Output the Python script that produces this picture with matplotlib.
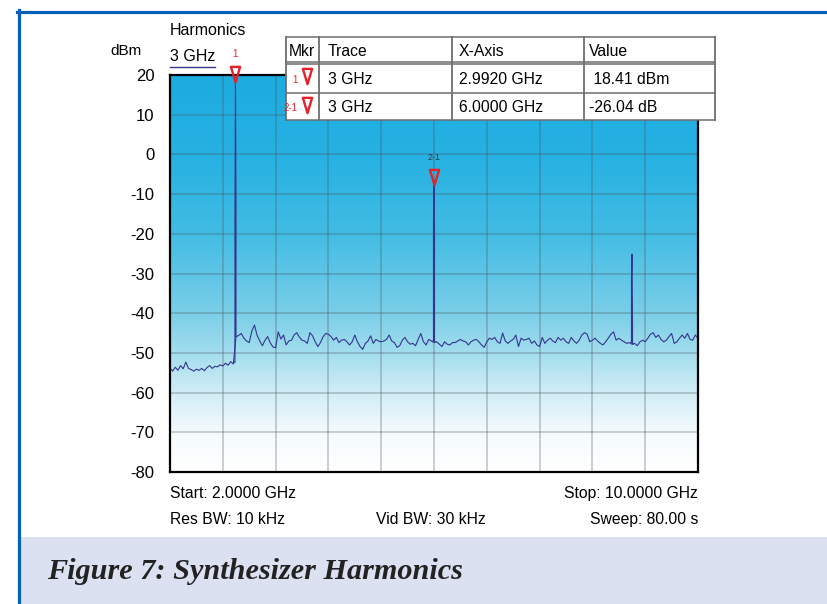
import numpy as np
import matplotlib
matplotlib.use("Agg")
import matplotlib.pyplot as plt
from matplotlib.colors import LinearSegmentedColormap
from matplotlib.patches import Rectangle
from matplotlib.lines import Line2D
from matplotlib.path import Path
from matplotlib import transforms

plt.rcParams['font.family'] = ['Liberation Sans', 'DejaVu Sans']

# ---------------------------------------------------------------- data
start_ghz, stop_ghz = 2.0, 10.0
y_ticks = [20, 10, 0, -10, -20, -30, -40, -50, -60, -70, -80]
x_divisions = 10

# swept trace level (dBm), one reading per 40 MHz from 2 to 10 GHz
level_dbm = [
    -53.8, -54.6, -53.6, -54.4, -53.2, -54.0, -52.3, -53.9, -54.2, -54.6,
    -54.1, -54.4, -53.9, -54.5, -53.7, -53.2, -53.9, -53.4, -53.5, -53.0,
    -53.3, -52.6, -53.1, -52.2, -52.8,
    -45.9, -45.6, -45.1, -46.3, -47.0, -47.4, -44.5, -43.0, -45.6, -47.0,
    -48.2, -46.8, -45.9, -47.5, -48.5, -48.7, -44.7, -46.5, -45.5, -48.0,
    -47.0, -46.8, -45.5, -44.9, -46.0, -46.8, -47.0,
    -47.6, -44.9, -45.7, -47.2, -48.4, -47.4, -45.9, -45.1, -45.3, -45.9,
    -46.8, -46.1, -47.4, -46.8, -46.6, -47.2, -48.0, -47.2, -45.5, -47.2,
    -48.4, -49.1, -47.6, -47.0, -45.7, -47.6, -46.6, -47.0, -47.2, -47.0,
    -46.6, -45.5, -47.0, -47.4, -48.6, -48.2, -46.8, -46.1, -47.2, -47.8,
    -47.6, -48.2, -46.6, -45.1, -47.2, -48.0, -46.6, -47.0,
    -47.4,
    -47.2, -47.8, -48.4, -47.2, -47.8, -48.0, -47.4, -47.4, -47.0, -46.6,
    -47.0, -47.2, -48.0, -47.2, -46.8, -46.6, -47.2, -48.0, -48.6, -47.2,
    -46.3, -46.6, -46.1, -47.2, -47.6, -45.0, -47.0, -47.6, -47.0, -46.6,
    -45.5, -48.4, -46.3, -46.8, -46.6, -46.3, -47.6, -47.0, -48.0, -48.4,
    -46.1, -47.6, -46.8, -46.3, -47.0, -47.4, -46.1, -46.8, -46.3, -47.2,
    -47.6, -46.1, -47.0,
    -47.6, -46.8, -45.5, -44.9, -45.3, -47.2, -46.8, -46.3, -47.0, -47.6,
    -48.0, -47.2, -46.3, -45.3, -44.7, -46.8, -46.3, -46.8, -47.2, -47.6,
    -47.4, -47.8, -47.6, -48.2, -47.2, -46.8, -47.2, -46.3, -45.3, -44.9,
    -46.1, -45.5, -46.6, -47.2, -46.8, -45.9, -45.1, -47.6, -47.2, -46.3,
    -45.5, -46.3, -45.1, -46.6, -46.8, -45.5, -46.3,
]

# marker readout
marker1_ghz = 2.9920
marker1_dbm = 18.41
marker2_ghz = 6.0000
marker2_delta_db = -26.04

# harmonic spikes: fundamental, 2nd, 3rd
spike_ghz = [marker1_ghz, marker2_ghz, 9.000]
spike_top_dbm = [marker1_dbm, marker1_dbm + marker2_delta_db, -25.1]
spike_rise_dbm = [-16.9, -17.5, -31.0]
spike_fall_dbm = [-14.0, -19.0, -43.0]
spike_base_lo = [-52.4, -47.0, -47.4]
spike_base_hi = [-45.9, -47.2, -47.8]

# background shading stops (dBm, rgb)
shade_stops = [
    (20, (29, 172, 224)), (0, (38, 177, 226)), (-20, (66, 188, 228)),
    (-40, (122, 206, 232)), (-50, (162, 221, 238)), (-60, (208, 237, 246)),
    (-70, (244, 250, 252)), (-80, (255, 255, 255)),
]

# ---------------------------------------------------------------- layout
W, H = 828, 604
fig = plt.figure(figsize=(W / 100, H / 100), dpi=100)
fig.patch.set_facecolor('white')


def fx(x):
    return x / W


def fy(y):
    return 1 - y / H


ax_l, ax_t, ax_r, ax_b = 170, 75, 698, 472
ax = fig.add_axes([fx(ax_l), fy(ax_b), fx(ax_r - ax_l), (ax_b - ax_t) / H])
ax.set_xlim(start_ghz, stop_ghz)
ax.set_ylim(y_ticks[-1], y_ticks[0])

# shaded background
lo, hi = y_ticks[-1], y_ticks[0]
pos = [(hi - v) / (hi - lo) for v, _ in shade_stops]
cols = [tuple(c / 255 for c in rgb) for _, rgb in shade_stops]
cmap = LinearSegmentedColormap.from_list('shade', list(zip(pos, cols)))
grad = np.linspace(0, 1, 400).reshape(-1, 1)
ax.imshow(grad, cmap=cmap, extent=[start_ghz, stop_ghz, lo, hi],
          aspect='auto', interpolation='bilinear', zorder=0, origin='upper')

ax.set_xticks(np.linspace(start_ghz, stop_ghz, x_divisions + 1))
ax.set_yticks(y_ticks)
ax.set_xticklabels([])
ax.set_yticklabels([str(v) for v in y_ticks], fontsize=12)
ax.tick_params(length=0, pad=11)
ax.grid(True, color=(0.28, 0.32, 0.34), alpha=0.32, lw=1.2, zorder=1)
for s in ax.spines.values():
    s.set_color('black')
    s.set_linewidth(1.6)
    s.set_zorder(4)

trace_color = '#35358c'
freq_ghz = np.linspace(start_ghz, stop_ghz, len(level_dbm))
ax.plot(freq_ghz, level_dbm, color=trace_color, lw=0.8, zorder=3)

d = 0.008
for f, top, rise, fall, b0, b1 in zip(spike_ghz, spike_top_dbm, spike_rise_dbm,
                                      spike_fall_dbm, spike_base_lo, spike_base_hi):
    ax.plot([f - 2 * d, f - d, f - d, f, f + d, f + d, f + 2 * d],
            [b0, b0, rise, top, fall, b1, b1], color=trace_color, lw=0.8, zorder=3)

# delta markers (tip sits on the reading)
tri = Path([(0, -1), (-0.6, 1), (0.6, 1), (0, -1)],
           [Path.MOVETO, Path.LINETO, Path.LINETO, Path.CLOSEPOLY])
ms = 11
red = '#e8202a'
tip_tr = transforms.offset_copy(ax.transData, fig=fig, x=0, y=ms / 2, units='points')
m2_dbm = marker1_dbm + marker2_delta_db
for f, v in [(marker1_ghz, marker1_dbm), (marker2_ghz, m2_dbm)]:
    ax.plot([f], [v], marker=tri, ms=ms, mfc='none', mec=red, mew=1.7,
            transform=tip_tr, clip_on=False, zorder=6)
lab_tr = transforms.offset_copy(ax.transData, fig=fig, x=0, y=ms + 5, units='points')
ax.text(marker1_ghz, marker1_dbm, '1', color=red, fontsize=7, ha='center',
        va='bottom', transform=lab_tr, clip_on=False, zorder=6)
ax.text(marker2_ghz, m2_dbm, '2-1', color='#333333', fontsize=6.5, ha='center',
        va='bottom', transform=lab_tr, zorder=6)

# ---------------------------------------------------------------- header texts
fig.text(fx(170), fy(35), 'Harmonics', fontsize=11.5, ha='left', va='baseline')
fig.text(fx(110), fy(55), 'dBm', fontsize=11, ha='left', va='baseline')
fig.text(fx(170), fy(61), '3 GHz', fontsize=11.5, ha='left', va='baseline')
fig.add_artist(Line2D([fx(170), fx(215)], [fy(67), fy(67)], color=trace_color, lw=1.0))

# ---------------------------------------------------------------- readout table
t_l, t_t, t_r, t_b = 286, 37, 715, 120
col_x = [286, 319, 452, 584, 715]
fig.add_artist(Rectangle((fx(t_l), fy(t_b)), fx(t_r - t_l), (t_b - t_t) / H,
                         facecolor='white', edgecolor='none', zorder=5))
gray = '#6e6e6e'
for x in col_x:
    fig.add_artist(Line2D([fx(x), fx(x)], [fy(t_t), fy(t_b)], color=gray, lw=1.3, zorder=6))
for y in [37, 61.5, 63.5, 93, 120]:
    fig.add_artist(Line2D([fx(t_l), fx(t_r)], [fy(y), fy(y)], color=gray, lw=1.1, zorder=6))

header = ['Mkr', 'Trace', 'X-Axis', 'Value']
rows = [
    ['1', '3 GHz', f'{marker1_ghz:.4f} GHz', f' {marker1_dbm:.2f} dBm'],
    ['2-1', '3 GHz', f'{marker2_ghz:.4f} GHz', f'{marker2_delta_db:.2f} dB'],
]
text_x = [289, 328, 459, 589]
fs_tab = 11.3
for x, h in zip(text_x, header):
    fig.text(fx(x), fy(56), h, fontsize=fs_tab, ha='left', va='baseline', zorder=7)
for (y_base, y_mid), row in zip([(84, 76), (112, 105)], rows):
    fig.text(fx(298), fy(y_base - 1), row[0], fontsize=7, color=red,
             ha='right', va='baseline', zorder=7)
    fig.add_artist(Line2D([fx(307.5)], [fy(y_mid)], marker=tri, ms=ms, mfc='none',
                          mec=red, mew=1.7, zorder=7))
    for x, s in zip(text_x[1:], row[1:]):
        fig.text(fx(x), fy(y_base), s, fontsize=fs_tab, ha='left', va='baseline', zorder=7)

# ---------------------------------------------------------------- sweep settings
fs_bot = 11.3
fig.text(fx(170), fy(498), f'Start: {start_ghz:.4f} GHz', fontsize=fs_bot, ha='left', va='baseline')
fig.text(fx(698), fy(498), f'Stop: {stop_ghz:.4f} GHz', fontsize=fs_bot, ha='right', va='baseline')
fig.text(fx(170), fy(524), 'Res BW: 10 kHz', fontsize=fs_bot, ha='left', va='baseline')
fig.text(fx(431), fy(524), 'Vid BW: 30 kHz', fontsize=fs_bot, ha='center', va='baseline')
fig.text(fx(698), fy(524), 'Sweep: 80.00 s', fontsize=fs_bot, ha='right', va='baseline')

# ---------------------------------------------------------------- frame and caption
fig.add_artist(Rectangle((fx(20), 0), 1 - fx(20), (604 - 537) / H,
                         facecolor=(219 / 255, 225 / 255, 241 / 255), edgecolor='none', zorder=0))
border = (0 / 255, 96 / 255, 185 / 255)
fig.add_artist(Line2D([fx(19), fx(19)], [fy(10), 0], color=border, lw=2.3))
fig.add_artist(Line2D([fx(17.5), 1], [fy(11.5), fy(11.5)], color=border, lw=2.3))
fig.text(fx(47), fy(579), 'Figure 7: Synthesizer Harmonics', fontsize=21.8,
         family=['Liberation Serif', 'DejaVu Serif'], style='italic', weight='bold',
         color='#222222', ha='left', va='baseline')

fig.savefig('out.png', dpi=100)
